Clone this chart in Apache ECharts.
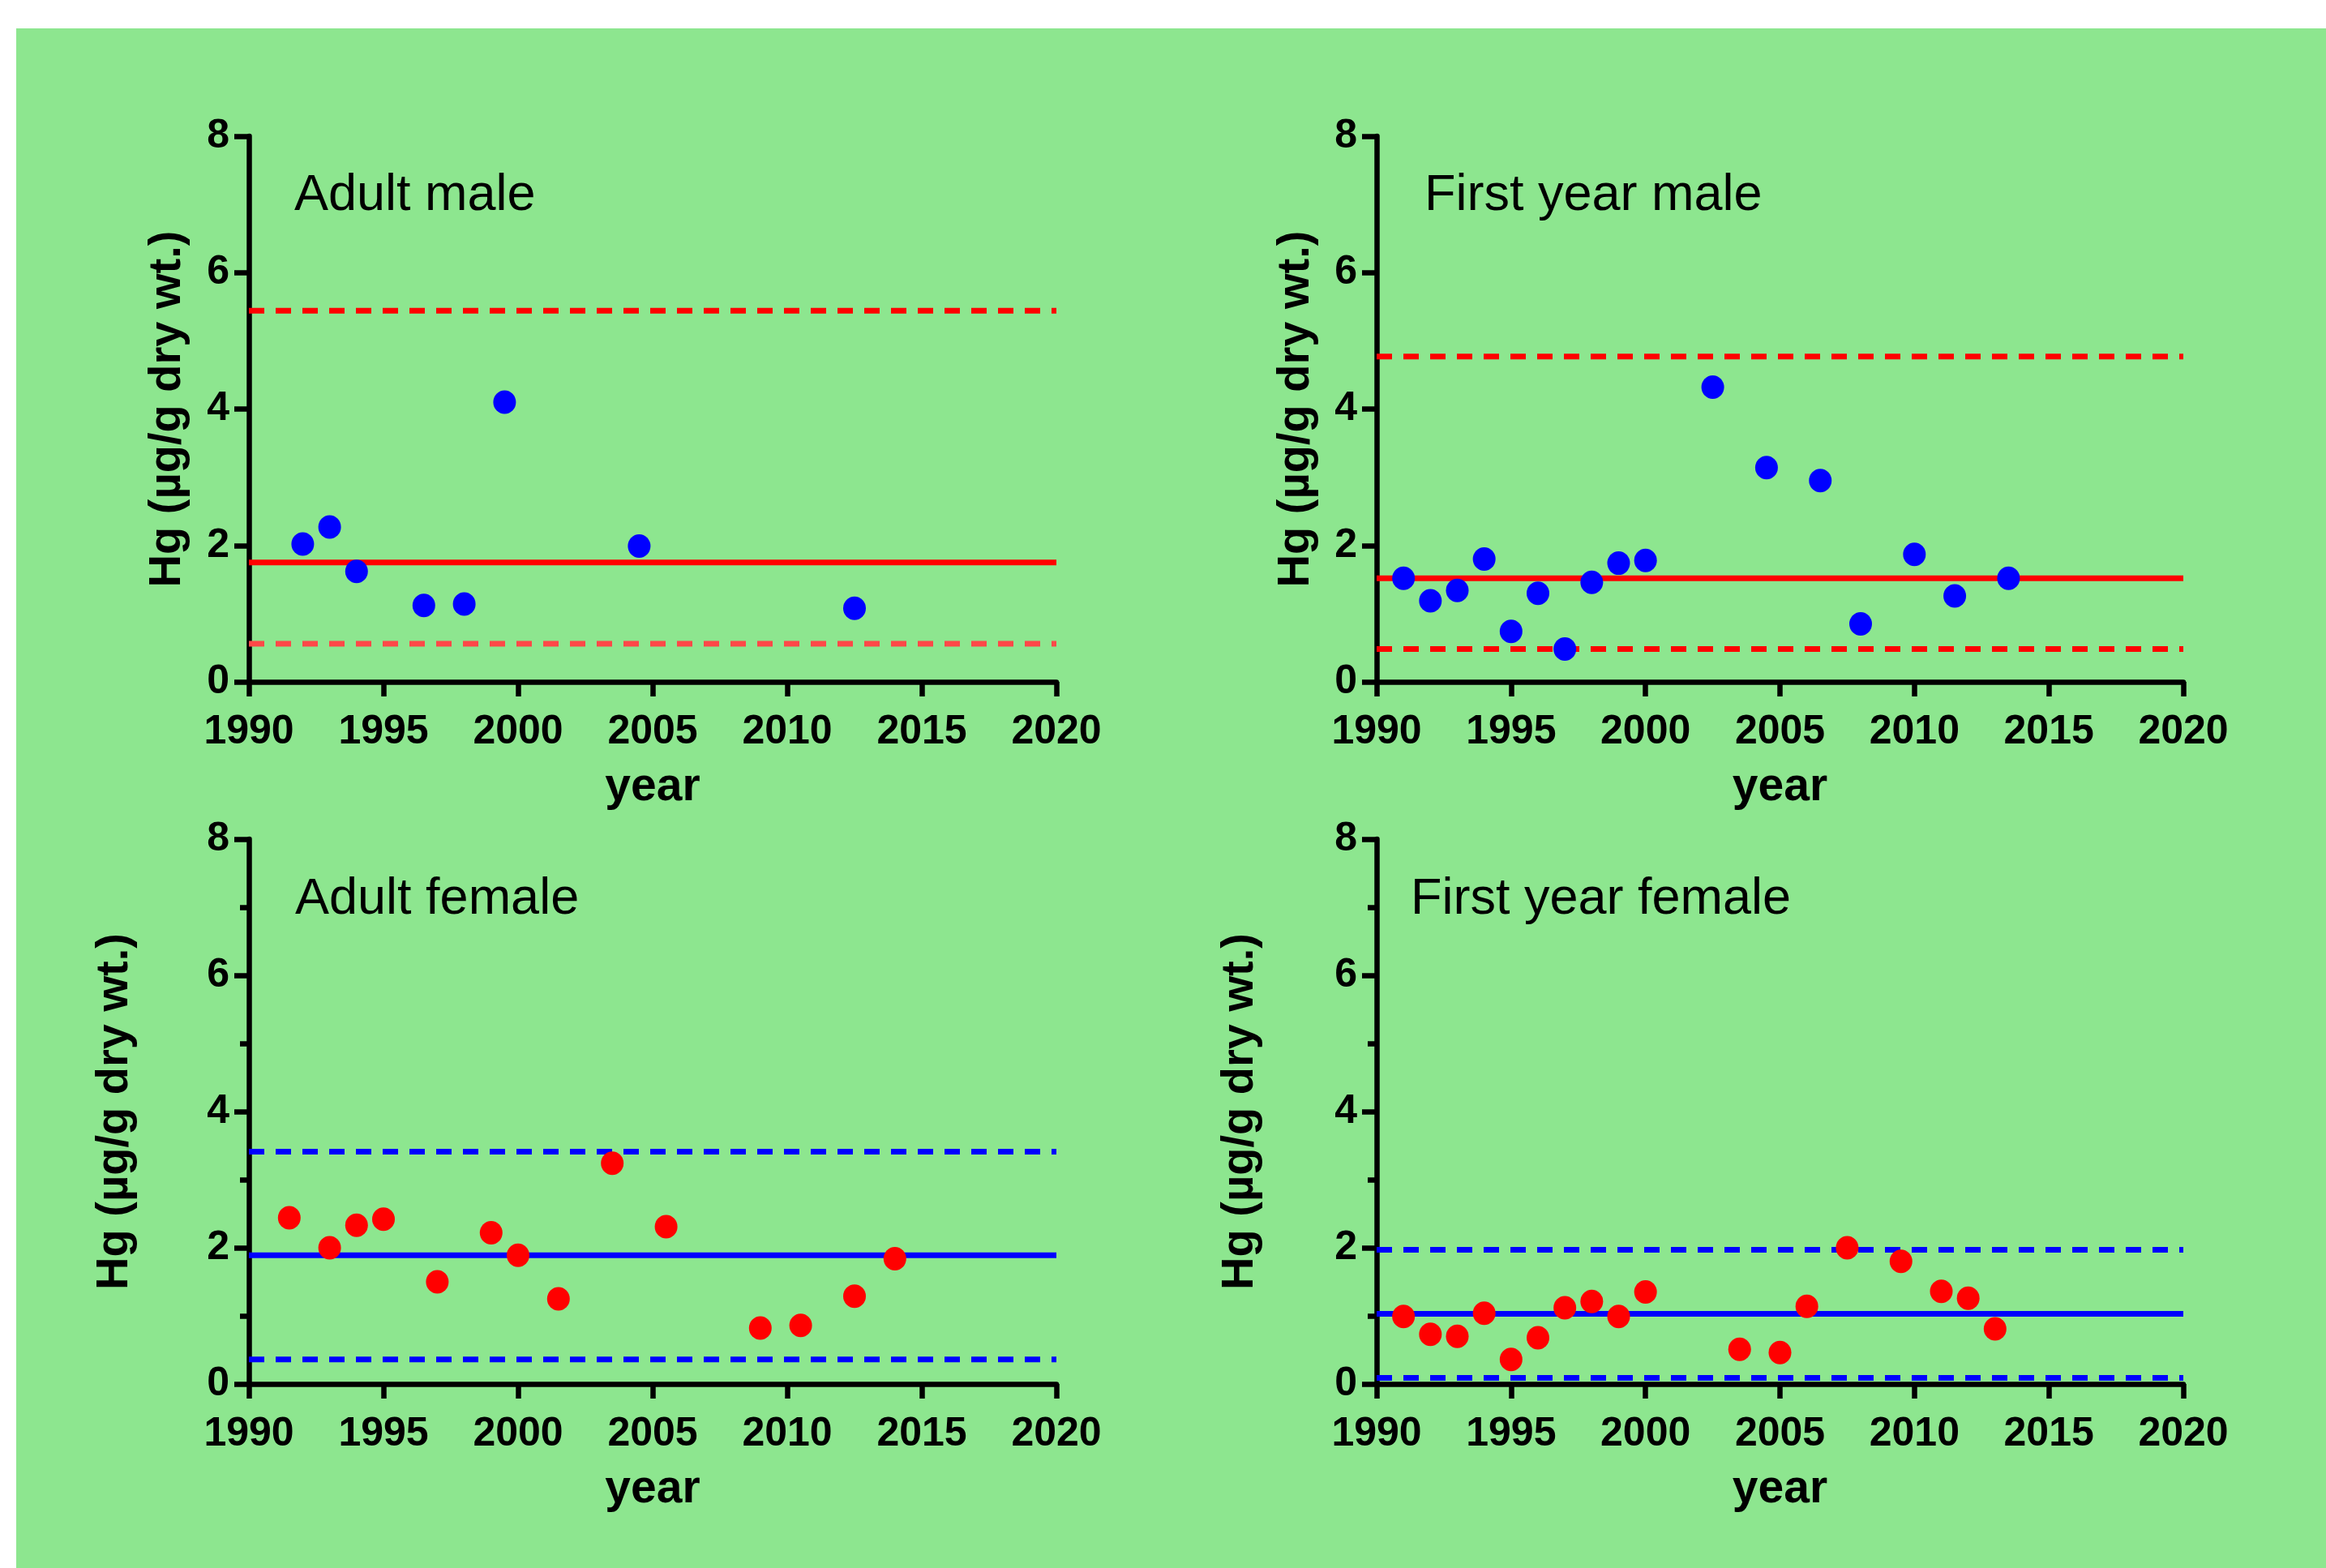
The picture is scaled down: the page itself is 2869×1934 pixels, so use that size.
<!DOCTYPE html>
<html>
<head>
<meta charset="utf-8">
<script src="https://cdn.jsdelivr.net/npm/echarts@6/dist/echarts.min.js"></script>
<style>
  html, body { margin:0; padding:0; background:#ffffff; }
  #bg { position:absolute; left:20px; top:35px; width:2849px; height:1899px; background:#8de68f; }
  #chart { position:absolute; left:0; top:0; width:2869px; height:1934px; }
</style>
</head>
<body>
<div id="bg"></div>
<div id="chart"></div>
<script>
// ---------- data ----------
const panelTitles = ['Adult male', 'First year male', 'Adult female', 'First year female'];
const yAxisTitle = 'Hg (\u00b5g/g dry wt.)';
const xAxisTitle = 'year';
const xTickMin = 1990, xTickMax = 2020, xTickStep = 5;
const yTickMin = 0, yTickMax = 8, yTickStep = 2;

// Adult male
const amYears = [1992, 1993, 1994, 1996.5, 1998, 1999.5, 2004.5, 2012.5];
const amHg    = [2.02, 2.27, 1.62, 1.12, 1.14, 4.10, 1.99, 1.08];
const amLines = [1.75, 5.44, 0.56]; // mean, upper, lower

// First year male
const fmYears = [1991, 1992, 1993, 1994, 1995, 1996, 1997, 1998, 1999, 2000, 2002.5, 2004.5, 2006.5, 2008, 2010, 2011.5, 2013.5];
const fmHg    = [1.52, 1.19, 1.34, 1.80, 0.74, 1.30, 0.48, 1.46, 1.74, 1.78, 4.32, 3.14, 2.95, 0.85, 1.87, 1.26, 1.52];
const fmLines = [1.52, 4.77, 0.48];

// Adult female
const afYears = [1991.5, 1993, 1994, 1995, 1997, 1999, 2000, 2001.5, 2003.5, 2005.5, 2009, 2010.5, 2012.5, 2014];
const afHg    = [2.44, 2.00, 2.33, 2.42, 1.50, 2.22, 1.89, 1.25, 3.24, 2.31, 0.82, 0.86, 1.29, 1.84];
const afLines = [1.89, 3.41, 0.36];

// First year female
const ffYears = [1991, 1992, 1993, 1994, 1995, 1996, 1997, 1998, 1999, 2000, 2003.5, 2005, 2006, 2007.5, 2009.5, 2011, 2012, 2013];
const ffHg    = [0.99, 0.73, 0.70, 1.04, 0.36, 0.68, 1.12, 1.21, 0.99, 1.35, 0.51, 0.46, 1.14, 2.00, 1.80, 1.36, 1.26, 0.81];
const ffLines = [1.03, 1.97, 0.09];

// ---------- build ----------
const panels = [
  { years: amYears, hg: amHg, lines: amLines, dot: '#0000ff', line: '#ff0000', lowerLine: '#ff4848' },
  { years: fmYears, hg: fmHg, lines: fmLines, dot: '#0000ff', line: '#ff0000', lowerLine: '#ff0000' },
  { years: afYears, hg: afHg, lines: afLines, dot: '#ff0000', line: '#0000ff', lowerLine: '#0000ff' },
  { years: ffYears, hg: ffHg, lines: ffLines, dot: '#ff0000', line: '#0000ff', lowerLine: '#0000ff' }
];
const grids = [
  { left: 307,  top: 168,  width: 996, height: 673 },
  { left: 1698, top: 168,  width: 995, height: 673 },
  { left: 307,  top: 1035, width: 996, height: 672 },
  { left: 1698, top: 1035, width: 995, height: 672 }
];
const yNameGaps = [72, 71, 137, 140];
const minorTicks = [false, false, true, true];
const titlePos = [[363, 242], [1757, 242], [364, 1110], [1740, 1110]];

const FONT = '"Liberation Sans", Arial, sans-serif';

const xAxes = [], yAxes = [], series = [], graphics = [];
panels.forEach((p, i) => {
  xAxes.push({
    type: 'value', gridIndex: i, min: xTickMin, max: xTickMax, interval: xTickStep,
    name: xAxisTitle, nameLocation: 'middle', nameGap: 102,
    nameTextStyle: { fontFamily: FONT, fontWeight: 'bold', fontSize: 57, color: '#000' },
    axisLine: { show: true, onZero: false, lineStyle: { color: '#000', width: 6.5 } },
    axisTick: { show: true, inside: false, length: 18, lineStyle: { color: '#000', width: 6.5 } },
    axisLabel: { margin: 37, fontFamily: FONT, fontWeight: 'bold', fontSize: 50, color: '#000',
                 formatter: v => String(v) },
    splitLine: { show: false }
  });
  yAxes.push({
    type: 'value', gridIndex: i, min: yTickMin, max: yTickMax, interval: yTickStep,
    name: yAxisTitle, nameLocation: 'middle', nameGap: yNameGaps[i], nameRotate: 90,
    nameTextStyle: { fontFamily: FONT, fontWeight: 'bold', fontSize: 56, color: '#000' },
    axisLine: { show: true, onZero: false, lineStyle: { color: '#000', width: 6.5 } },
    axisTick: { show: true, inside: false, length: 18, lineStyle: { color: '#000', width: 6.5 } },
    minorTick: { show: minorTicks[i], splitNumber: 2, length: 11, lineStyle: { color: '#000', width: 6.5 } },
    axisLabel: { margin: 24, fontFamily: FONT, fontWeight: 'bold', fontSize: 50, color: '#000',
                 formatter: v => String(v) },
    splitLine: { show: false }
  });
  const styles = [
    { color: p.line, type: 'solid' },
    { color: p.line, type: [19, 14] },
    { color: p.lowerLine, type: [19, 14] }
  ];
  p.lines.forEach((v, k) => {
    series.push({
      type: 'line', xAxisIndex: i, yAxisIndex: i, silent: true, animation: false,
      showSymbol: false, symbol: 'none', z: 2,
      data: [[xTickMin, v], [xTickMax, v]],
      lineStyle: { color: styles[k].color, width: 7, type: styles[k].type, cap: 'butt' }
    });
  });
  series.push({
    type: 'scatter', xAxisIndex: i, yAxisIndex: i, animation: false, z: 5,
    symbol: 'circle', symbolSize: [28, 29],
    itemStyle: { color: p.dot, opacity: 1 },
    data: p.years.map((y, k) => [y, p.hg[k]])
  });
  graphics.push({
    type: 'text', x: titlePos[i][0], y: titlePos[i][1], z: 10,
    style: { text: panelTitles[i], fontFamily: FONT, fontSize: 63, fill: '#000', verticalAlign: 'middle', align: 'left' }
  });
});

const chart = echarts.init(document.getElementById('chart'), null, { renderer: 'canvas' });
chart.setOption({
  backgroundColor: 'transparent',
  animation: false,
  grid: grids,
  xAxis: xAxes,
  yAxis: yAxes,
  series: series,
  graphic: graphics
});
</script>
</body>
</html>
